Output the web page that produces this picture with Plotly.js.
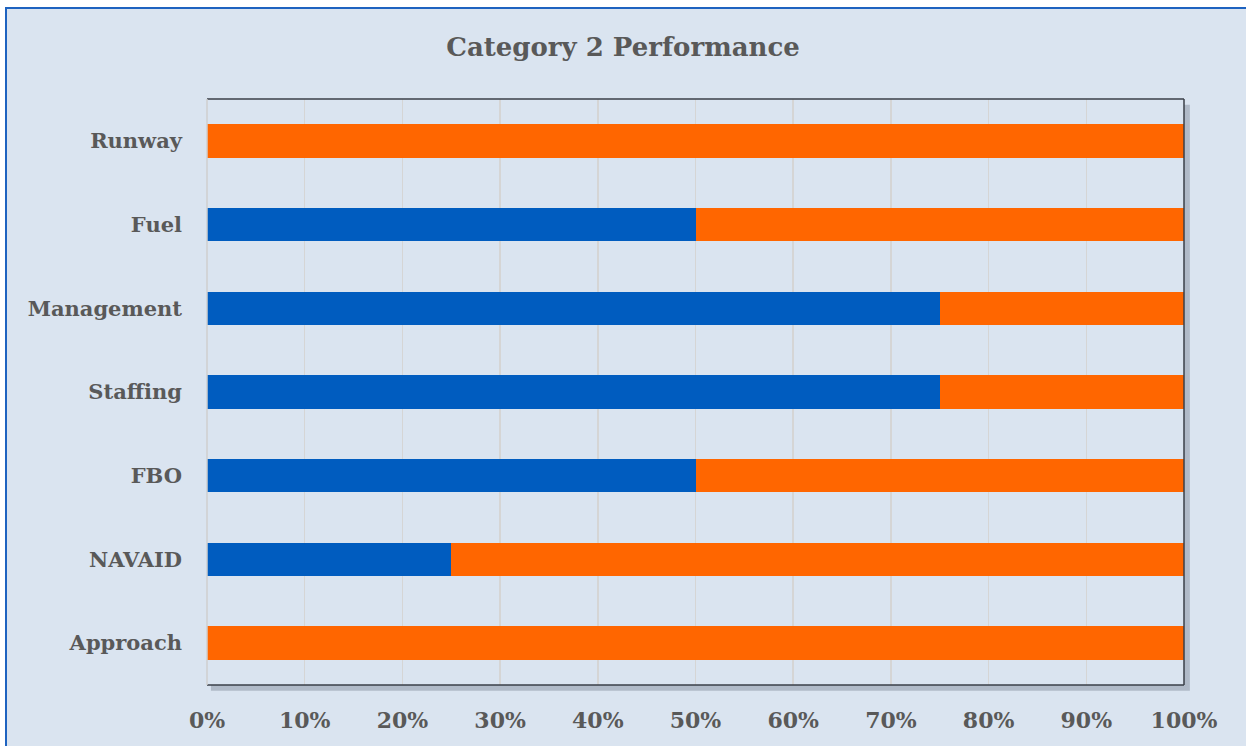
<!DOCTYPE html>
<html><head><meta charset="utf-8">
<script src="https://cdn.plot.ly/plotly-3.0.1.min.js"></script>
<style>
html,body{margin:0;padding:0;background:#fff;width:1246px;height:746px;overflow:hidden;}
#frame{position:absolute;left:5px;top:7px;width:1250px;height:750px;background:#DAE4F0;border:2px solid #1E63C0;box-sizing:border-box;}
#chart{position:absolute;left:0;top:0;width:1246px;height:746px;}
</style></head>
<body>
<div id="frame"></div>
<div id="chart"></div>
<script>
const categories = ["Approach","NAVAID","FBO","Staffing","Management","Fuel","Runway"];
const blueValues = [0,25,50,75,75,50,0];
const orangeValues = [100,75,50,25,25,50,100];
const tickVals = [0,10,20,30,40,50,60,70,80,90,100];
const tickText = tickVals.map(v => v + "%");

const font = {family:"'DejaVu Serif', 'Liberation Serif', serif", color:"#595959"};

const traces = [
  {type:"bar", orientation:"h", y:categories, x:blueValues, marker:{color:"#005CBF"}, width:0.4, name:"A", hoverinfo:"x+y"},
  {type:"bar", orientation:"h", y:categories, x:orangeValues, marker:{color:"#FF6600"}, width:0.4, name:"B", hoverinfo:"x+y"}
];

const layout = {
  width:1246, height:746,
  barmode:"stack",
  showlegend:false,
  paper_bgcolor:"rgba(0,0,0,0)",
  plot_bgcolor:"rgba(0,0,0,0)",
  margin:{l:207, r:62, t:99, b:61, pad:0},
  title:{text:"<b>Category 2 Performance</b>", x:0.5, xanchor:"center", y:0.937, yanchor:"middle",
         font:Object.assign({size:26}, font)},
  xaxis:{range:[0,100], tickvals:tickVals, ticktext:tickText, showgrid:true, gridcolor:"#D5D5D5", gridwidth:1.5,
         zeroline:false, showline:false, ticks:"", ticklen:0, ticklabelstandoff:20,
         tickfont:Object.assign({size:22, weight:"bold"}, font)},
  yaxis:{categoryorder:"array", categoryarray:categories, showgrid:false, zeroline:false, showline:false, ticks:"",
         ticklabelstandoff:24, tickfont:Object.assign({size:21, weight:"bold"}, font), range:[-0.5,6.5]},
  shapes:[
    {type:"rect", xref:"paper", yref:"paper", x0:0.004, x1:1.006, y0:-0.01, y1:0.99, line:{width:0}, fillcolor:"rgba(80,90,110,0.3)", layer:"below"},
    {type:"rect", xref:"paper", yref:"paper", x0:0, x1:1, y0:0, y1:1, line:{width:0}, fillcolor:"#DAE4F0", layer:"below"},
    {type:"line", xref:"paper", yref:"paper", x0:0, x1:1, y0:1, y1:1, line:{color:"#3A3F48", width:1.5}},
    {type:"line", xref:"paper", yref:"paper", x0:1, x1:1, y0:0, y1:1, line:{color:"#3A3F48", width:1.5}},
    {type:"line", xref:"paper", yref:"paper", x0:0, x1:1, y0:0, y1:0, line:{color:"#3A3F48", width:1.5}},
    {type:"line", xref:"paper", yref:"paper", x0:0, x1:0, y0:0, y1:1, line:{color:"#CFCFCF", width:1.5}}
  ]
};

Plotly.newPlot("chart", traces, layout, {displayModeBar:false, staticPlot:true});
</script>
</body></html>
